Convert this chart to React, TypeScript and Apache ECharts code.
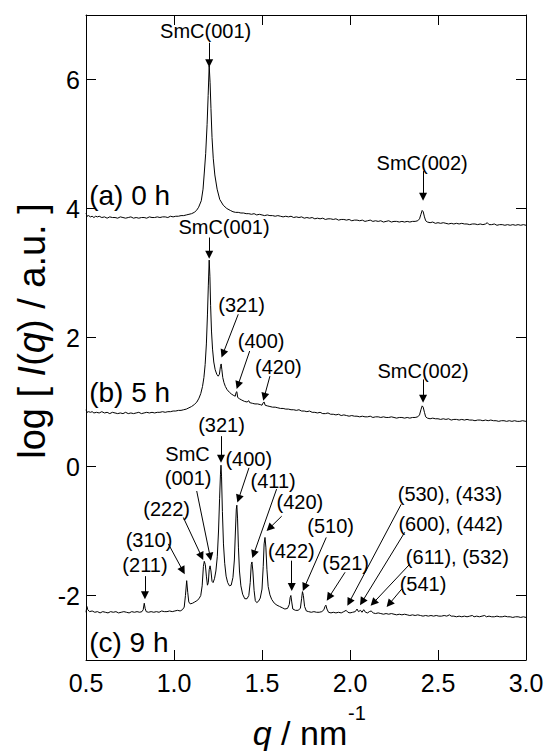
import React, { useEffect, useRef } from "react";
import * as echarts from "echarts";

const FONT = "'Liberation Sans', Arial, Helvetica, sans-serif";

const xTickValues = [0.5, 1.0, 1.5, 2.0, 2.5, 3.0];
const yTickValues = [-2, 0, 2, 4, 6];

// (a) 0 h : [q, log I]
const curve0h: [number, number][] = [
  [0.500,3.93],[0.506,3.88],[0.515,3.89],[0.525,3.87],[0.535,3.88],[0.545,3.86],[0.555,3.88],[0.565,3.87],[0.575,3.88],[0.590,3.86],
  [0.605,3.87],[0.620,3.85],[0.635,3.87],[0.650,3.86],[0.665,3.86],[0.680,3.85],[0.695,3.87],[0.710,3.86],[0.725,3.85],[0.740,3.86],
  [0.755,3.87],[0.770,3.85],[0.785,3.86],[0.800,3.85],[0.815,3.86],[0.830,3.86],[0.845,3.85],[0.860,3.87],[0.875,3.86],[0.890,3.86],
  [0.905,3.87],[0.920,3.86],[0.935,3.87],[0.950,3.87],[0.965,3.86],[0.980,3.88],[0.995,3.87],[1.010,3.88],[1.025,3.88],[1.040,3.89],
  [1.055,3.89],[1.070,3.90],[1.085,3.91],[1.100,3.92],[1.115,3.94],[1.128,3.97],[1.140,4.02],[1.155,4.12],[1.165,4.30],[1.172,4.55],
  [1.180,4.85],[1.188,5.30],[1.194,5.75],[1.200,6.21],[1.205,5.95],[1.210,5.55],[1.216,5.10],[1.223,4.78],[1.232,4.52],[1.245,4.30],
  [1.260,4.14],[1.280,4.05],[1.300,4.00],[1.320,3.97],[1.335,3.95],[1.350,3.94],[1.365,3.94],[1.380,3.93],[1.395,3.93],[1.410,3.92],
  [1.425,3.92],[1.440,3.91],[1.455,3.92],[1.470,3.90],[1.485,3.91],[1.500,3.90],[1.515,3.89],[1.530,3.90],[1.545,3.89],[1.560,3.89],
  [1.575,3.88],[1.590,3.89],[1.605,3.88],[1.620,3.87],[1.635,3.88],[1.650,3.87],[1.665,3.88],[1.680,3.86],[1.695,3.87],[1.710,3.86],
  [1.725,3.87],[1.740,3.85],[1.755,3.86],[1.770,3.85],[1.785,3.86],[1.800,3.84],[1.815,3.85],[1.830,3.84],[1.845,3.85],[1.860,3.83],
  [1.875,3.84],[1.890,3.84],[1.905,3.83],[1.920,3.84],[1.935,3.82],[1.950,3.83],[1.965,3.83],[1.980,3.82],[1.995,3.83],[2.010,3.81],
  [2.025,3.82],[2.040,3.82],[2.055,3.81],[2.070,3.82],[2.085,3.80],[2.100,3.81],[2.115,3.82],[2.130,3.80],[2.145,3.81],[2.160,3.80],
  [2.175,3.81],[2.190,3.79],[2.205,3.80],[2.220,3.81],[2.235,3.79],[2.250,3.80],[2.265,3.80],[2.280,3.79],[2.295,3.80],[2.310,3.79],
  [2.325,3.80],[2.340,3.79],[2.355,3.80],[2.370,3.80],[2.385,3.81],[2.395,3.84],[2.403,3.91],[2.410,3.97],[2.416,3.95],[2.423,3.87],
  [2.430,3.81],[2.440,3.79],[2.455,3.78],[2.470,3.79],[2.485,3.77],[2.500,3.78],[2.515,3.77],[2.530,3.78],[2.545,3.77],[2.560,3.76],
  [2.575,3.77],[2.590,3.76],[2.605,3.77],[2.620,3.76],[2.635,3.77],[2.650,3.76],[2.665,3.76],[2.680,3.75],[2.695,3.76],[2.710,3.76],
  [2.725,3.75],[2.740,3.76],[2.755,3.75],[2.770,3.76],[2.780,3.78],[2.790,3.75],[2.805,3.75],[2.820,3.76],[2.835,3.74],[2.850,3.75],
  [2.865,3.75],[2.880,3.74],[2.895,3.75],[2.910,3.74],[2.925,3.75],[2.940,3.74],[2.955,3.75],[2.970,3.74],[2.985,3.75],[3.000,3.74],
];

// (b) 5 h
const curve5h: [number, number][] = [
  [0.500,0.88],[0.506,0.84],[0.515,0.85],[0.525,0.84],[0.535,0.85],[0.545,0.83],[0.560,0.84],[0.575,0.83],[0.590,0.85],[0.605,0.83],
  [0.620,0.84],[0.635,0.82],[0.650,0.84],[0.665,0.83],[0.680,0.82],[0.695,0.83],[0.710,0.82],[0.725,0.84],[0.740,0.82],[0.755,0.83],
  [0.770,0.82],[0.785,0.83],[0.800,0.84],[0.815,0.82],[0.830,0.83],[0.845,0.84],[0.860,0.83],[0.875,0.84],[0.890,0.83],[0.905,0.84],
  [0.920,0.84],[0.935,0.85],[0.950,0.84],[0.965,0.85],[0.980,0.85],[0.995,0.86],[1.010,0.86],[1.025,0.87],[1.040,0.87],[1.055,0.88],
  [1.070,0.89],[1.085,0.91],[1.100,0.93],[1.115,0.96],[1.130,1.00],[1.142,1.06],[1.152,1.13],[1.162,1.24],[1.170,1.38],[1.177,1.58],
  [1.184,1.90],[1.190,2.35],[1.195,2.80],[1.200,3.20],[1.204,2.95],[1.208,2.50],[1.213,2.10],[1.219,1.82],[1.226,1.62],[1.234,1.50],
  [1.243,1.43],[1.251,1.40],[1.258,1.43],[1.264,1.55],[1.268,1.59],[1.272,1.50],[1.277,1.38],[1.284,1.30],[1.292,1.24],[1.302,1.19],
  [1.315,1.15],[1.328,1.12],[1.340,1.10],[1.348,1.09],[1.353,1.15],[1.357,1.16],[1.362,1.07],[1.372,1.05],[1.385,1.03],[1.400,1.01],
  [1.415,1.00],[1.425,1.02],[1.430,0.99],[1.445,0.98],[1.460,0.97],[1.475,0.97],[1.490,0.96],[1.500,0.95],[1.507,0.99],[1.512,1.00],
  [1.518,0.95],[1.530,0.94],[1.545,0.93],[1.560,0.92],[1.575,0.92],[1.590,0.91],[1.605,0.90],[1.620,0.90],[1.635,0.89],[1.650,0.89],
  [1.665,0.88],[1.680,0.88],[1.695,0.87],[1.710,0.88],[1.725,0.86],[1.740,0.86],[1.755,0.85],[1.770,0.86],[1.785,0.84],[1.800,0.84],
  [1.815,0.83],[1.830,0.84],[1.845,0.82],[1.860,0.82],[1.875,0.83],[1.890,0.81],[1.905,0.81],[1.920,0.80],[1.935,0.81],[1.950,0.79],
  [1.965,0.80],[1.980,0.79],[1.995,0.78],[2.010,0.79],[2.025,0.78],[2.040,0.78],[2.055,0.77],[2.070,0.78],[2.085,0.77],[2.100,0.77],
  [2.115,0.78],[2.130,0.76],[2.145,0.77],[2.160,0.77],[2.175,0.76],[2.190,0.77],[2.205,0.76],[2.220,0.76],[2.235,0.77],[2.250,0.76],
  [2.265,0.75],[2.280,0.76],[2.295,0.76],[2.310,0.75],[2.325,0.76],[2.340,0.75],[2.355,0.76],[2.370,0.76],[2.385,0.77],[2.395,0.80],
  [2.403,0.88],[2.410,0.94],[2.416,0.92],[2.423,0.84],[2.430,0.77],[2.440,0.75],[2.455,0.74],[2.470,0.75],[2.485,0.74],[2.500,0.74],
  [2.515,0.73],[2.530,0.74],[2.545,0.73],[2.560,0.74],[2.575,0.72],[2.590,0.73],[2.605,0.73],[2.620,0.72],[2.635,0.73],[2.650,0.72],
  [2.665,0.73],[2.680,0.72],[2.695,0.72],[2.710,0.71],[2.725,0.72],[2.740,0.72],[2.755,0.71],[2.770,0.72],[2.785,0.71],[2.800,0.72],
  [2.815,0.71],[2.830,0.71],[2.845,0.70],[2.860,0.71],[2.875,0.71],[2.890,0.70],[2.905,0.71],[2.920,0.70],[2.935,0.71],[2.950,0.70],
  [2.965,0.70],[2.980,0.71],[3.000,0.70],
];

// (c) 9 h
const curve9h: [number, number][] = [
  [0.500,-2.26],[0.505,-2.17],[0.510,-2.22],[0.520,-2.25],[0.535,-2.24],[0.550,-2.26],[0.565,-2.25],[0.580,-2.27],[0.595,-2.25],[0.610,-2.26],
  [0.625,-2.27],[0.640,-2.25],[0.655,-2.26],[0.670,-2.25],[0.685,-2.27],[0.700,-2.26],[0.715,-2.25],[0.730,-2.26],[0.745,-2.27],[0.760,-2.25],
  [0.775,-2.26],[0.790,-2.25],[0.805,-2.26],[0.818,-2.25],[0.825,-2.22],[0.831,-2.12],[0.836,-2.20],[0.842,-2.25],[0.855,-2.26],[0.870,-2.25],
  [0.885,-2.26],[0.900,-2.25],[0.915,-2.26],[0.930,-2.24],[0.945,-2.25],[0.960,-2.25],[0.975,-2.24],[0.990,-2.25],[1.005,-2.24],[1.020,-2.23],
  [1.035,-2.24],[1.048,-2.22],[1.058,-2.18],[1.065,-2.00],[1.072,-1.77],[1.078,-1.95],[1.084,-2.10],[1.092,-2.13],[1.105,-2.12],[1.118,-2.10],
  [1.130,-2.08],[1.142,-2.05],[1.152,-2.00],[1.160,-1.85],[1.167,-1.55],[1.172,-1.47],[1.178,-1.52],[1.184,-1.70],[1.190,-1.84],[1.195,-1.80],
  [1.200,-1.60],[1.205,-1.54],[1.210,-1.62],[1.216,-1.78],[1.222,-1.80],[1.230,-1.74],[1.238,-1.62],[1.246,-1.40],[1.253,-1.00],[1.259,-0.50],
  [1.264,-0.12],[1.267,0.02],[1.270,-0.15],[1.275,-0.70],[1.281,-1.20],[1.288,-1.50],[1.296,-1.70],[1.305,-1.80],[1.315,-1.85],[1.325,-1.84],
  [1.335,-1.72],[1.343,-1.45],[1.349,-1.00],[1.354,-0.66],[1.357,-0.60],[1.361,-0.80],[1.366,-1.25],[1.372,-1.62],[1.380,-1.85],[1.390,-1.98],
  [1.402,-2.05],[1.415,-2.05],[1.425,-2.00],[1.433,-1.80],[1.439,-1.52],[1.443,-1.48],[1.448,-1.62],[1.455,-1.92],[1.462,-2.08],[1.470,-2.11],
  [1.480,-2.09],[1.490,-2.04],[1.500,-1.90],[1.507,-1.55],[1.512,-1.20],[1.517,-1.10],[1.522,-1.25],[1.528,-1.60],[1.535,-1.86],[1.545,-1.99],
  [1.555,-2.06],[1.570,-2.12],[1.585,-2.15],[1.600,-2.17],[1.615,-2.19],[1.630,-2.21],[1.645,-2.20],[1.655,-2.14],[1.660,-2.03],[1.664,-2.00],
  [1.669,-2.10],[1.675,-2.21],[1.690,-2.23],[1.705,-2.23],[1.718,-2.20],[1.725,-2.05],[1.730,-1.94],[1.735,-2.00],[1.742,-2.17],[1.752,-2.24],
  [1.765,-2.25],[1.780,-2.26],[1.795,-2.25],[1.810,-2.26],[1.825,-2.26],[1.840,-2.25],[1.852,-2.22],[1.858,-2.17],[1.863,-2.15],[1.869,-2.21],
  [1.878,-2.26],[1.892,-2.27],[1.905,-2.26],[1.920,-2.27],[1.935,-2.26],[1.950,-2.27],[1.965,-2.25],[1.978,-2.23],[1.988,-2.26],[2.000,-2.27],
  [2.015,-2.26],[2.030,-2.25],[2.040,-2.21],[2.048,-2.25],[2.060,-2.23],[2.068,-2.26],[2.078,-2.22],[2.088,-2.26],[2.100,-2.27],[2.110,-2.25],
  [2.120,-2.24],[2.132,-2.27],[2.145,-2.28],[2.160,-2.27],[2.175,-2.28],[2.190,-2.29],[2.205,-2.28],[2.220,-2.29],[2.235,-2.28],[2.250,-2.29],
  [2.265,-2.30],[2.280,-2.29],[2.295,-2.30],[2.310,-2.29],[2.325,-2.30],[2.340,-2.31],[2.355,-2.30],[2.370,-2.31],[2.385,-2.30],[2.400,-2.31],
  [2.415,-2.32],[2.430,-2.31],[2.445,-2.32],[2.460,-2.31],[2.475,-2.32],[2.490,-2.31],[2.505,-2.32],[2.520,-2.32],[2.535,-2.31],[2.550,-2.32],
  [2.565,-2.30],[2.575,-2.32],[2.590,-2.32],[2.605,-2.33],[2.620,-2.32],[2.635,-2.33],[2.650,-2.32],[2.665,-2.33],[2.680,-2.32],[2.695,-2.31],
  [2.705,-2.33],[2.720,-2.32],[2.735,-2.33],[2.750,-2.32],[2.765,-2.31],[2.775,-2.33],[2.790,-2.32],[2.805,-2.33],[2.820,-2.33],[2.835,-2.32],
  [2.850,-2.33],[2.865,-2.33],[2.880,-2.32],[2.895,-2.33],[2.910,-2.33],[2.925,-2.34],[2.940,-2.33],[2.955,-2.33],[2.970,-2.34],[2.985,-2.33],
  [3.000,-2.34],
];

// Peak annotation labels: [text, q, log I] (text centre)
const peakLabels: [string, number, number][] = [
  ["SmC(001)", 1.18, 6.75],
  ["SmC(002)", 2.41, 4.71],
  ["SmC(001)", 1.284, 3.71],
  ["(321)", 1.384, 2.50],
  ["(400)", 1.495, 1.95],
  ["(420)", 1.593, 1.535],
  ["SmC(002)", 2.415, 1.48],
  ["(321)", 1.27, 0.65],
  ["SmC", 1.077, 0.19],
  ["(001)", 1.08, -0.18],
  ["(400)", 1.425, 0.11],
  ["(411)", 1.563, -0.22],
  ["(420)", 1.715, -0.55],
  ["(222)", 0.958, -0.66],
  ["(310)", 0.858, -1.14],
  ["(211)", 0.835, -1.53],
  ["(422)", 1.667, -1.31],
  ["(510)", 1.89, -0.92],
  ["(521)", 1.975, -1.49],
  ["(530), (433)", 2.568, -0.43],
  ["(600), (442)", 2.572, -0.895],
  ["(611), (532)", 2.61, -1.41],
  ["(541)", 2.415, -1.82],
];

// Panel labels: [text, q (left edge), log I]
const panelLabels: [string, number, number][] = [
  ["(a) 0 h", 0.518, 4.195],
  ["(b) 5 h", 0.518, 1.15],
  ["(c) 9 h", 0.518, -2.73],
];

// Arrows: [q from, logI from, q to (tip), logI to (tip)]
const arrows: [number, number, number, number][] = [
  [1.20, 6.57, 1.20, 6.19],
  [2.415, 4.58, 2.415, 4.12],
  [1.20, 3.55, 1.20, 3.22],
  [1.365, 2.36, 1.270, 1.69],
  [1.430, 1.79, 1.356, 1.20],
  [1.545, 1.40, 1.507, 1.02],
  [2.415, 1.35, 2.415, 0.99],
  [1.267, 0.47, 1.267, 0.06],
  [1.129, -0.38, 1.21, -1.46],
  [1.426, -0.02, 1.36, -0.56],
  [1.583, -0.35, 1.445, -1.42],
  [1.612, -0.77, 1.526, -1.0],
  [1.053, -0.79, 1.166, -1.45],
  [0.968, -1.20, 1.061, -1.67],
  [0.835, -1.70, 0.835, -2.06],
  [1.669, -1.46, 1.669, -1.93],
  [1.865, -1.10, 1.732, -1.93],
  [1.972, -1.64, 1.868, -2.08],
  [2.291, -0.585, 1.985, -2.16],
  [2.311, -1.02, 2.057, -2.15],
  [2.341, -1.51, 2.117, -2.16],
  [2.294, -1.90, 2.208, -2.18],
];

const X_MIN = 0.5, X_MAX = 3.0, Y_MIN = -3, Y_MAX = 7;
const GRID = { left: 86, top: 15, width: 440, height: 645 };
const HEAD = 8;

function arrowCoords(a: [number, number, number, number]) {
  const [q1, v1, q2, v2] = a;
  const sx = GRID.width / (X_MAX - X_MIN);
  const sy = GRID.height / (Y_MAX - Y_MIN);
  const dx = (q2 - q1) * sx;
  const dy = (v2 - v1) * sy;
  const L = Math.hypot(dx, dy);
  const f = (L - HEAD / 2) / L;
  return [[q1, v1], [q1 + (q2 - q1) * f, v1 + (v2 - v1) * f]];
}

export default function App() {
  const ref = useRef<HTMLDivElement>(null);
  useEffect(() => {
    if (!ref.current) return;
    const chart = echarts.init(ref.current, null, { renderer: "svg" });
    const axisCommon = {
      type: "value" as const,
      axisLine: { show: true, onZero: false, lineStyle: { color: "#000", width: 1 } },
      splitLine: { show: false },
    };
    const labelCommon = {
      show: true,
      formatter: "{b}",
      color: "#000",
      opacity: 1,
      textBorderWidth: 0,
      fontFamily: FONT,
    };
    const option: any = {
      animation: false,
      backgroundColor: "#fff",
      grid: { ...GRID, containLabel: false },
      xAxis: [
        {
          ...axisCommon, min: X_MIN, max: X_MAX, position: "bottom",
          axisTick: { show: true, inside: true, length: 10, customValues: xTickValues, lineStyle: { color: "#000", width: 1 } },
          axisLabel: { show: true, customValues: xTickValues, formatter: (v: number) => v.toFixed(1), fontSize: 25, color: "#000", margin: 10, fontFamily: FONT },
        },
        {
          ...axisCommon, min: X_MIN, max: X_MAX, position: "top",
          axisTick: { show: true, inside: true, length: 10, customValues: xTickValues, lineStyle: { color: "#000", width: 1 } },
          axisLabel: { show: false },
        },
      ],
      yAxis: [
        {
          ...axisCommon, min: Y_MIN, max: Y_MAX, position: "left",
          axisTick: { show: true, inside: true, length: 10, customValues: yTickValues, lineStyle: { color: "#000", width: 1 } },
          axisLabel: { show: true, customValues: yTickValues, formatter: (v: number) => String(v), fontSize: 25, color: "#000", margin: 6, fontFamily: FONT },
        },
        {
          ...axisCommon, min: Y_MIN, max: Y_MAX, position: "right",
          axisTick: { show: true, inside: true, length: 10, customValues: yTickValues, lineStyle: { color: "#000", width: 1 } },
          axisLabel: { show: false },
        },
      ],
      series: [
        ...[curve0h, curve5h, curve9h].map((d, i) => ({
          name: ["0 h", "5 h", "9 h"][i],
          type: "line",
          data: d,
          showSymbol: false,
          symbol: "none",
          lineStyle: { color: "#000", width: 1 },
          silent: true,
          z: 3,
        })),
        {
          type: "lines",
          coordinateSystem: "cartesian2d",
          polyline: false,
          symbol: ["none", "triangle"],
          symbolSize: HEAD,
          lineStyle: { color: "#000", width: 1, opacity: 1, curveness: 0 },
          data: arrows.map((a) => ({ coords: arrowCoords(a) })),
          silent: true,
          z: 4,
        },
        {
          type: "scatter",
          symbolSize: 0,
          silent: true,
          z: 5,
          itemStyle: { opacity: 1, color: "#000" },
          label: { ...labelCommon, position: "inside", fontSize: 20 },
          data: peakLabels.map(([t, q, v]) => ({ name: t, value: [q, v] })),
        },
        {
          type: "scatter",
          symbolSize: 0,
          silent: true,
          z: 5,
          itemStyle: { opacity: 1, color: "#000" },
          label: { ...labelCommon, position: "right", distance: 0, fontSize: 28 },
          data: panelLabels.map(([t, q, v]) => ({ name: t, value: [q, v] })),
        },
      ],
      graphic: [
        {
          type: "text",
          x: 32,
          y: 331,
          rotation: Math.PI / 2,
          style: {
            text: "{r|log [ }{i|I}{r|(}{i|q}{r|) / a.u. ]}",
            rich: {
              r: { fontSize: 38, fontFamily: FONT, fill: "#000", color: "#000" },
              i: { fontSize: 38, fontFamily: FONT, fontStyle: "italic", fill: "#000", color: "#000" },
            },
            fontSize: 38,
            fontFamily: FONT,
            fill: "#000",
            align: "center",
            verticalAlign: "middle",
            textAlign: "center",
            textVerticalAlign: "middle",
          },
        },
        {
          type: "text",
          x: 300,
          y: 733,
          style: {
            text: "{i|q}{r| / nm}",
            rich: {
              r: { fontSize: 34, fontFamily: FONT, fill: "#000", color: "#000" },
              i: { fontSize: 34, fontFamily: FONT, fontStyle: "italic", fill: "#000", color: "#000" },
            },
            fontSize: 34,
            fontFamily: FONT,
            fill: "#000",
            align: "center",
            verticalAlign: "middle",
            textAlign: "center",
            textVerticalAlign: "middle",
          },
        },
        {
          type: "text",
          x: 357,
          y: 713,
          style: {
            text: "-1",
            fontSize: 20,
            fontFamily: FONT,
            fill: "#000",
            align: "center",
            verticalAlign: "middle",
            textAlign: "center",
            textVerticalAlign: "middle",
          },
        },
      ],
    };
    chart.setOption(option);
    return () => chart.dispose();
  }, []);
  return (
    <div
      ref={ref}
      style={{ position: "absolute", left: 0, top: 0, width: 547, height: 751, background: "#fff" }}
    />
  );
}
